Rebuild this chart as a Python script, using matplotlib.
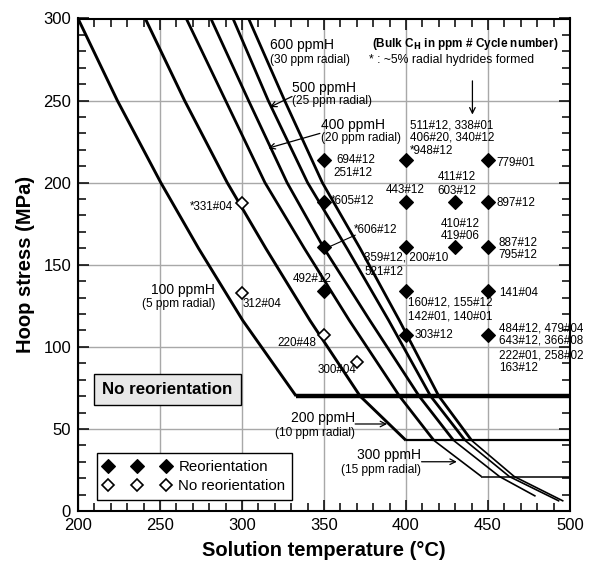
import matplotlib
matplotlib.use('Agg')
import matplotlib.pyplot as plt
from matplotlib.lines import Line2D
from matplotlib.patches import Rectangle

plt.rcParams['font.family'] = ['Liberation Sans', 'DejaVu Sans']

# ---------------- data ----------------
# threshold curves (solution temperature degC, hoop stress MPa)
c100_T = [200, 224, 250.5, 273.5, 300.5, 333]
c100_S = [300, 250, 200, 160, 116, 70]
c200_T = [241, 265, 291, 314.5, 341.5, 372, 400]
c200_S = [300, 250, 200, 160, 116, 70, 43]
c300_T = [266, 290, 314, 338, 365.5, 396, 417, 446]
c300_S = [300, 250, 200, 160, 116, 70, 43, 21]
c400_T = [281, 304, 327.5, 350, 378, 408, 429, 457, 479]
c400_S = [300, 250, 200, 160, 116, 70, 43, 21, 9]
c500_T = [294.5, 316, 340, 364, 389.5, 415, 436, 463, 493.5]
c500_S = [300, 250, 200, 160, 116, 70, 43, 21, 6]
c600_T = [304, 326, 349, 372, 396, 420, 440, 466, 496]
c600_S = [300, 250, 200, 160, 116, 70, 43, 21, 6]

# plateaus (T start, T end, stress)
plat100 = ([333, 500], [70, 70])
plat200 = ([400, 500], [43, 43])
plat300 = ([446, 500], [21, 21])

# reorientation (filled) points
reo_T = [350, 400, 450, 350, 400, 430, 450, 350, 400, 430, 450, 350, 400, 450, 400, 450]
reo_S = [214, 214, 214, 188, 188, 188, 188, 161, 161, 161, 161, 134, 134, 134, 107.5, 107.5]
# no reorientation (open) points
nor_T = [300, 300, 350, 370]
nor_S = [187.5, 133, 107.5, 91]

# point annotations: text, T, S, ha
point_labels = [
    ('511#12, 338#01', 402.4, 235, 'left'),
    ('406#20, 340#12', 402.4, 227.5, 'left'),
    ('*948#12', 402.4, 219, 'left'),
    ('694#12', 357.7, 213.6, 'left'),
    ('251#12', 356, 206, 'left'),
    ('779#01', 455.3, 211.8, 'left'),
    ('*605#12', 354, 189, 'left'),
    ('443#12', 399.4, 195.4, 'center'),
    ('411#12', 431, 203.5, 'center'),
    ('603#12', 431, 195, 'center'),
    ('897#12', 455, 187.5, 'left'),
    ('*606#12', 368, 171.4, 'left'),
    ('410#12', 433, 175, 'center'),
    ('419#06', 433, 167.4, 'center'),
    ('887#12', 456.3, 163.5, 'left'),
    ('795#12', 456.3, 155.8, 'left'),
    ('359#12, 200#10', 374.6, 154.4, 'left'),
    ('521#12', 374.6, 145.7, 'left'),
    ('492#12', 342.5, 141.6, 'center'),
    ('160#12, 155#12', 401, 126.8, 'left'),
    ('142#01, 140#01', 401, 118.3, 'left'),
    ('141#04', 456.9, 132.9, 'left'),
    ('303#12', 405, 107, 'left'),
    ('484#12, 479#04', 456.7, 111.2, 'left'),
    ('643#12, 366#08', 456.7, 103.6, 'left'),
    ('222#01, 258#02', 456.7, 95, 'left'),
    ('163#12', 456.7, 86.9, 'left'),
    ('*331#04', 294.7, 185.2, 'right'),
    ('312#04', 300.4, 125.8, 'left'),
    ('220#48', 345.1, 102.4, 'right'),
    ('300#04', 357.7, 85.8, 'center'),
]

# curve labels: (main, sub, T, S_main, S_sub, ha)
curve_labels = [
    ('600 ppmH', '(30 ppm radial)', 317, 283.7, 275, 'left'),
    ('500 ppmH', '(25 ppm radial)', 330.3, 257.5, 249.7, 'left'),
    ('400 ppmH', '(20 ppm radial)', 348, 235, 227, 'left'),
    ('100 ppmH', '(5 ppm radial)', 283.5, 134.5, 126, 'right'),
    ('200 ppmH', '(10 ppm radial)', 369, 56.4, 47.3, 'right'),
    ('300 ppmH', '(15 ppm radial)', 409, 34, 25, 'right'),
]
# arrows: (from T, from S, to T, to S)
arrows = [
    (330.5, 252.5, 317, 246),
    (347.5, 230, 316, 221),
    (369, 53, 388.5, 53),
    (409.5, 30, 431, 30),
    (440.5, 262, 440.5, 241.5),
]

# ---------------- figure ----------------
fig = plt.figure(figsize=(5.98, 5.69), dpi=100)
ax = fig.add_axes([78 / 598, 58 / 569, 492 / 598, 492.5 / 569])
ax.set_xlim(200, 500)
ax.set_ylim(0, 300)

ax.set_xticks(range(200, 501, 50))
ax.set_yticks(range(0, 301, 50))
ax.set_xticks(range(200, 501, 10), minor=True)
ax.set_yticks(range(0, 301, 10), minor=True)
ax.grid(True, which='major', color='#a8a8a8', lw=1.0, zorder=0)
ax.set_axisbelow(True)
ax.tick_params(which='both', direction='in', top=True, right=True, width=1.1,
               labelsize=12, colors='black')
ax.tick_params(which='major', length=8, pad=5)
ax.tick_params(which='minor', length=6)
for sp in ax.spines.values():
    sp.set_linewidth(1.5)

ax.set_xlabel('Solution temperature (°C)', fontsize=14.5, fontweight='bold', labelpad=6)
ax.set_ylabel('Hoop stress (MPa)', fontsize=14.5, fontweight='bold', labelpad=6)

# curves
for T, S in [(c100_T, c100_S), (c200_T, c200_S)]:
    ax.plot(T, S, color='black', lw=2.1, solid_capstyle='butt', zorder=3)
for T, S in [(c300_T, c300_S), (c400_T, c400_S), (c500_T, c500_S), (c600_T, c600_S)]:
    k = S.index(43)
    ax.plot(T[:k + 1], S[:k + 1], color='black', lw=2.0, solid_capstyle='butt', zorder=3)
    ax.plot(T[k:], S[k:], color='black', lw=1.2, solid_capstyle='butt', zorder=3)

ax.plot(*plat100, color='black', lw=3.2, solid_capstyle='butt', zorder=3)
ax.plot(*plat200, color='black', lw=1.6, solid_capstyle='butt', zorder=3)
ax.plot(*plat300, color='black', lw=1.1, solid_capstyle='butt', zorder=3)

# points
FILLED = dict(ls='none', marker='D', ms=6.9, mfc='black', mec='black', mew=0.8)
OPEN = dict(ls='none', marker='D', ms=6.0, mfc='white', mec='black', mew=1.2)
ax.plot(reo_T, reo_S, zorder=5, **FILLED)
ax.plot(nor_T, nor_S, zorder=5, **OPEN)

for txt, T, S, ha in point_labels:
    ax.text(T, S, txt, ha=ha, va='center', fontsize=8.4, zorder=6)

# leader for *606#12
ax.plot([369, 354], [168, 161.3], color='black', lw=0.8, zorder=4)

for main, sub, T, s1, s2, ha in curve_labels:
    ax.text(T, s1, main, ha=ha, va='center', fontsize=10, zorder=6)
    ax.text(T, s2, sub, ha=ha, va='center', fontsize=8.6, zorder=6)

for x0, y0, x1, y1 in arrows:
    ax.annotate('', xy=(x1, y1), xytext=(x0, y0),
                arrowprops=dict(arrowstyle='->', color='black', lw=0.9,
                                shrinkA=0, shrinkB=0, mutation_scale=10), zorder=6)

ax.text(379, 284.6, r'(Bulk C$_\mathbf{H}$ in ppm # Cycle number)', ha='left', va='center',
        fontsize=8.5, fontweight='bold', zorder=6)
ax.text(377.6, 275, '* : ~5% radial hydrides formed', ha='left', va='center', fontsize=8.8, zorder=6)

# No reorientation box
ax.add_patch(Rectangle((209.8, 64.6), 89.4, 18.6, facecolor='#e8e8e8', edgecolor='black',
                       lw=1.0, zorder=6))
ax.text(254.5, 73.9, 'No reorientation', ha='center', va='center', fontsize=12.2,
        fontweight='bold', zorder=7)

# legend
h1 = Line2D([], [], **FILLED)
h2 = Line2D([], [], **OPEN)
leg = ax.legend([h1, h2], ['Reorientation', 'No reorientation'], loc='lower left',
                bbox_to_anchor=(0.038, 0.022), borderaxespad=0, numpoints=3,
                handlelength=4.5, handletextpad=0.5, labelspacing=0.35, borderpad=0.45,
                fontsize=10.8, frameon=True, fancybox=False, framealpha=1)
leg.get_frame().set_edgecolor('black')
leg.get_frame().set_linewidth(1.0)
leg.set_zorder(8)

fig.savefig('out.png', dpi=100)
